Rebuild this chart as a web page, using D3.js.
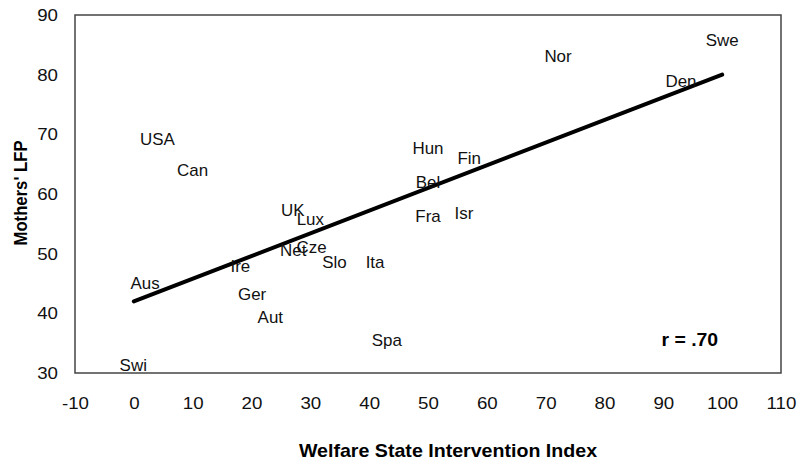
<!DOCTYPE html>
<html>
<head>
<meta charset="utf-8">
<script src="https://cdn.jsdelivr.net/npm/d3@7"></script>
<style>
  body { margin: 0; background: #fff; }
  text { font-family: "Liberation Sans", Arial, sans-serif; }
</style>
</head>
<body>
<div id="chart"></div>
<script>
// country labels and their positions (welfare index, mothers' LFP)
var countries = ["Swe", "Nor", "Den", "USA", "Can", "Hun", "Fin", "Bel", "Fra", "Isr", "UK", "Lux", "Cze", "Net", "Slo", "Ita", "Ire", "Aus", "Ger", "Aut", "Spa", "Swi"];
var welfare = [100, 72.1, 93, 4.0, 10.0, 50.0, 57.0, 50.0, 50.0, 56.1, 27.0, 30.0, 30.2, 27.1, 34.1, 41.0, 18.1, 1.9, 20.1, 23.2, 43.0, -0.1];
var lfp = [85.8, 83.0, 78.8, 69.1, 63.9, 67.6, 65.9, 62.0, 56.2, 56.8, 57.2, 55.7, 51.0, 50.5, 48.5, 48.6, 47.9, 45.1, 43.1, 39.4, 35.4, 31.3];

// fitted line endpoints
var fitX = [0, 100];
var fitY = [42, 80];

var xTicks = [-10, 0, 10, 20, 30, 40, 50, 60, 70, 80, 90, 100, 110];
var yTicks = [30, 40, 50, 60, 70, 80, 90];

var W = 798, H = 460;
var margin = { top: 15, right: 17, bottom: 87, left: 75 };
var width = W - margin.left - margin.right,
    height = H - margin.top - margin.bottom;

var svg = d3.select("#chart").append("svg")
    .attr("width", W)
    .attr("height", H);

var g = svg.append("g")
    .attr("transform", "translate(" + margin.left + "," + margin.top + ")");

var x = d3.scaleLinear().domain([-10, 110]).range([0, width]);
var y = d3.scaleLinear().domain([30, 90]).range([height, 0]);

// frame
g.append("rect")
    .attr("x", 0).attr("y", 0)
    .attr("width", width).attr("height", height)
    .attr("fill", "none")
    .attr("stroke", "#444")
    .attr("stroke-width", 1.5);

// the reference type is a bit wider than Arial, so stretch it sideways
function widen(sel, sx) {
    sel.each(function() {
        var t = d3.select(this);
        var tx = +t.attr("x") || 0, ty = +t.attr("y") || 0;
        t.attr("transform", (t.attr("transform") || "") + " translate(" + tx + "," + ty + ") scale(" + sx + ",1)")
         .attr("x", 0).attr("y", 0);
    });
}

// axes (labels only)
var xAxis = g.append("g")
    .attr("transform", "translate(0," + height + ")")
    .call(d3.axisBottom(x).tickValues(xTicks).tickSize(0).tickPadding(24)
        .tickFormat(function(d) { return String(d); }));
xAxis.select(".domain").remove();
xAxis.selectAll("text")
    .style("font-family", "Liberation Sans, Arial, sans-serif")
    .style("font-size", "17px")
    .attr("fill", "#111")
    .call(widen, 1.1);

var yAxis = g.append("g")
    .call(d3.axisLeft(y).tickValues(yTicks).tickSize(0).tickPadding(17));
yAxis.select(".domain").remove();
yAxis.selectAll("text")
    .style("font-family", "Liberation Sans, Arial, sans-serif")
    .style("font-size", "17px")
    .attr("fill", "#111")
    .call(widen, 1.1);

// regression line
var line = d3.line()
    .x(function(d) { return x(d[0]); })
    .y(function(d) { return y(d[1]); });

g.append("path")
    .datum(d3.zip(fitX, fitY))
    .attr("d", line)
    .attr("fill", "none")
    .attr("stroke", "#000")
    .attr("stroke-width", 4)
    .attr("stroke-linecap", "round");

// country labels
g.selectAll(".lbl")
    .data(countries)
    .enter().append("text")
    .attr("class", "lbl")
    .attr("x", function(d, i) { return x(welfare[i]); })
    .attr("y", function(d, i) { return y(lfp[i]); })
    .attr("text-anchor", "middle")
    .attr("dy", "0.35em")
    .style("font-size", "16px")
    .attr("fill", "#111")
    .text(function(d) { return d; })
    .call(widen, 1.06);

// correlation note
g.append("text")
    .attr("x", x(94.5))
    .attr("y", y(35.5))
    .attr("dy", "0.35em")
    .attr("text-anchor", "middle")
    .style("font-size", "18px")
    .style("font-weight", "bold")
    .text("r = .70")
    .call(widen, 1.08);

// axis titles
svg.append("text")
    .attr("x", 448)
    .attr("y", 457)
    .attr("text-anchor", "middle")
    .style("font-size", "18px")
    .style("font-weight", "bold")
    .text("Welfare State Intervention Index")
    .call(widen, 1.09);

svg.append("text")
    .attr("transform", "translate(27,193) rotate(-90) scale(1,1.15)")
    .attr("text-anchor", "middle")
    .style("font-size", "16.7px")
    .style("font-weight", "bold")
    .text("Mothers' LFP");
</script>
</body>
</html>
